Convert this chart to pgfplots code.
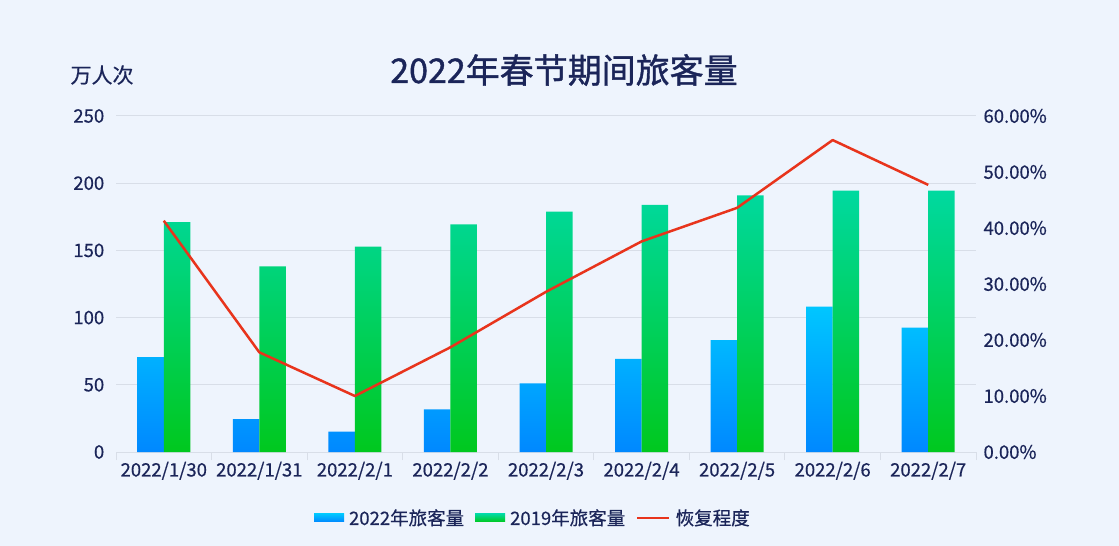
\documentclass[border=0pt]{standalone}
\usepackage{fontspec}
\setmainfont{Noto Sans CJK SC}[FakeBold=0.5]
\newfontfamily\titlefont{Noto Sans CJK SC}[FakeBold=1.2]
\usepackage{pgfplots}
\pgfplotsset{compat=1.18}
\definecolor{bg}{HTML}{EEF4FD}
\definecolor{txt}{HTML}{1B2559}
\definecolor{gridc}{HTML}{D8DEE8}
\definecolor{btop}{HTML}{00C6FF}
\definecolor{bbot}{HTML}{0088FF}
\definecolor{gtop}{HTML}{00D9A0}
\definecolor{gbot}{HTML}{00C81E}
\definecolor{lred}{HTML}{E8341C}
\pgfplotsset{
  barleg/.style={legend image code/.code={\fill[##1] (0pt,-4pt) rectangle (30pt,4pt);}},
  lineleg/.style={legend image code/.code={\draw[##1] (0pt,0pt) -- (32pt,0pt);}},
}
\begin{document}
\begin{tikzpicture}[x=1pt,y=1pt]
\fill[bg] (0,0) rectangle (1119,546);
\node[text=txt, font=\titlefont\fontsize{34}{34}\selectfont] at (564,476) {2022年春节期间旅客量};
\node[text=txt, font=\fontsize{21}{21}\selectfont, anchor=west] at (67,471) {万人次};
\begin{axis}[
  at={(116pt,94pt)}, anchor=south west, scale only axis,
  width=860pt, height=336pt,
  xmin=-0.5, xmax=8.5, ymin=0, ymax=250,
  ybar=0pt, bar width=26.5pt,
  axis x line*=bottom, axis y line*=left,
  y axis line style={draw=none},
  x axis line style={draw=gridc, line width=1pt, -},
  ytick={0,50,...,250},
  ymajorgrids, grid style={draw=gridc, line width=1pt},
  ytick style={draw=none},
  xtick={0,...,8},
  xticklabels={2022/1/30,2022/1/31,2022/2/1,2022/2/2,2022/2/3,2022/2/4,2022/2/5,2022/2/6,2022/2/7},
  major x tick style={draw=none},
  minor xtick={-0.5,0.5,...,8.5},
  minor x tick style={draw=gridc, line width=1pt},
  minor tick length=8pt,
  tick align=outside,
  ticklabel style={text=txt, font=\fontsize{18.5}{18.5}\selectfont},
  yticklabel style={xshift=-4pt},
  xticklabel style={yshift=-2pt},
  /pgf/number format/assume math mode=true,
  legend style={at={(0.4865,-0.196)}, anchor=center, draw=none, fill=none,
    legend columns=3, text=txt, font=\fontsize{18.5}{18.5}\selectfont,
    nodes={inner xsep=5pt},
    /tikz/every even column/.append style={column sep=6pt}},
  legend cell align=left,
]
\addplot[draw=none, top color=btop, bottom color=bbot, barleg]
  coordinates {(0,70.5) (1,24.5) (2,15.1) (3,31.7) (4,51.1) (5,69.2) (6,83.3) (7,108.1) (8,92.5)};
\addlegendentry{2022年旅客量}
\addplot[draw=none, top color=gtop, bottom color=gbot, barleg]
  coordinates {(0,171.1) (1,138.2) (2,152.8) (3,169.4) (4,178.8) (5,183.8) (6,191.0) (7,194.5) (8,194.5)};
\addlegendentry{2019年旅客量}
\addlegendimage{lred, line width=2.5pt, lineleg}
\addlegendentry{恢复程度}
\end{axis}
\begin{axis}[
  at={(116pt,94pt)}, anchor=south west, scale only axis,
  width=860pt, height=336pt,
  xmin=-0.5, xmax=8.5, ymin=0, ymax=60,
  axis x line=none, axis y line*=right,
  y axis line style={draw=none}, ytick style={draw=none},
  ytick={0,10,...,60},
  yticklabel={\pgfmathprintnumber[fixed,fixed zerofill,precision=2]{\tick}\%},
  ticklabel style={text=txt, font=\fontsize{18.5}{18.5}\selectfont},
  yticklabel style={xshift=4pt},
  /pgf/number format/assume math mode=true,
]
\addplot[lred, line width=2.5pt, line join=round] coordinates {(0,41.3) (1,17.8) (2,10.0) (3,18.7) (4,28.6) (5,37.6) (6,43.6) (7,55.7) (8,47.7)};
\end{axis}
\end{tikzpicture}
\end{document}
